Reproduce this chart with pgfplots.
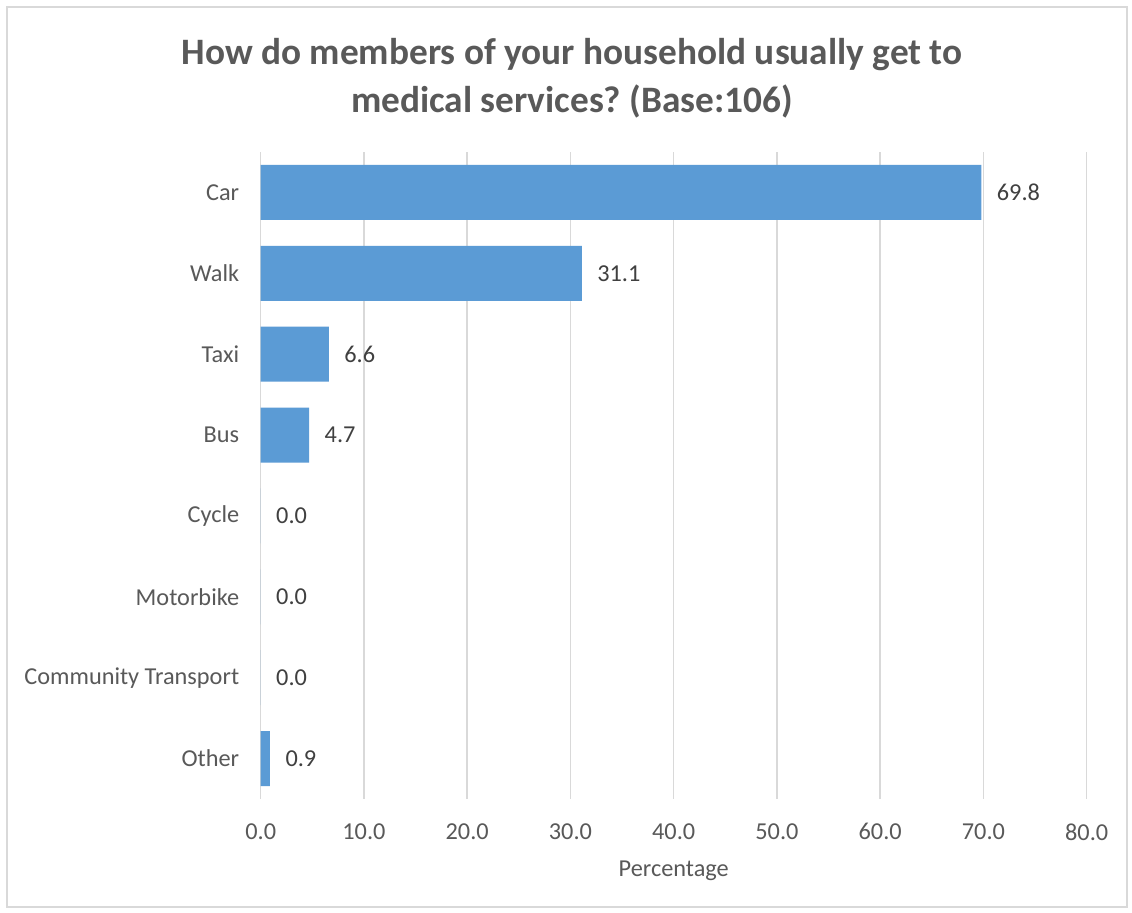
\documentclass[border=0pt]{standalone}
\usepackage{pgfplots}
\pgfplotsset{compat=1.18}
\usepackage{fontspec}
\setmainfont{Carlito}
\frenchspacing
\definecolor{txt}{HTML}{595959}
\definecolor{val}{HTML}{404040}
\definecolor{barc}{HTML}{5B9BD5}
\definecolor{gridc}{HTML}{D9D9D9}
\begin{document}
\begin{tikzpicture}
\path[fill=white] (0,0) rectangle (1132bp,913bp);
\draw[gridc, line width=1.5bp] (7bp,6bp) rectangle (1127bp,906bp);
\node[align=center, text=txt, font=\fontsize{37.3bp}{48bp}\selectfont\bfseries] at (572bp,835bp)
  {How do members of your household usually get to\\medical services?\ (Base:106)};
\begin{axis}[
  at={(260.7bp,114bp)}, anchor=south west,
  scale only axis, width=826bp, height=647bp,
  xbar, bar width=55bp,
  xmin=0, xmax=80, ymin=-0.5, ymax=7.5,
  y dir=reverse,
  xtick={0,10,...,80},
  ytick={0,...,7},
  yticklabels={Car,Walk,Taxi,Bus,Cycle,Motorbike,Community Transport,Other},
  xmajorgrids, major grid style={gridc, line width=1.5bp},
  axis line style={draw=none},
  major tick length=0pt,
  /pgf/number format/assume math mode=true,
  ticklabel style={text=txt, font=\fontsize{24.3bp}{28bp}\selectfont},
  xticklabel style={yshift=-21bp, /pgf/number format/fixed, /pgf/number format/fixed zerofill, /pgf/number format/precision=1},
  yticklabel style={xshift=-18bp},
  xlabel={Percentage},
  xlabel style={text=txt, font=\fontsize{24.3bp}{28bp}\selectfont, yshift=-14bp},
  nodes near coords,
  nodes near coords style={text=val, font=\fontsize{24.3bp}{28bp}\selectfont, anchor=west, xshift=12bp,
    /pgf/number format/fixed, /pgf/number format/fixed zerofill, /pgf/number format/precision=1},
]
\addplot[fill=barc, draw=none] coordinates {
  (69.8,0) (31.1,1) (6.6,2) (4.7,3) (0.0,4) (0.0,5) (0.0,6) (0.9,7)
};
\end{axis}
\end{tikzpicture}
\end{document}
